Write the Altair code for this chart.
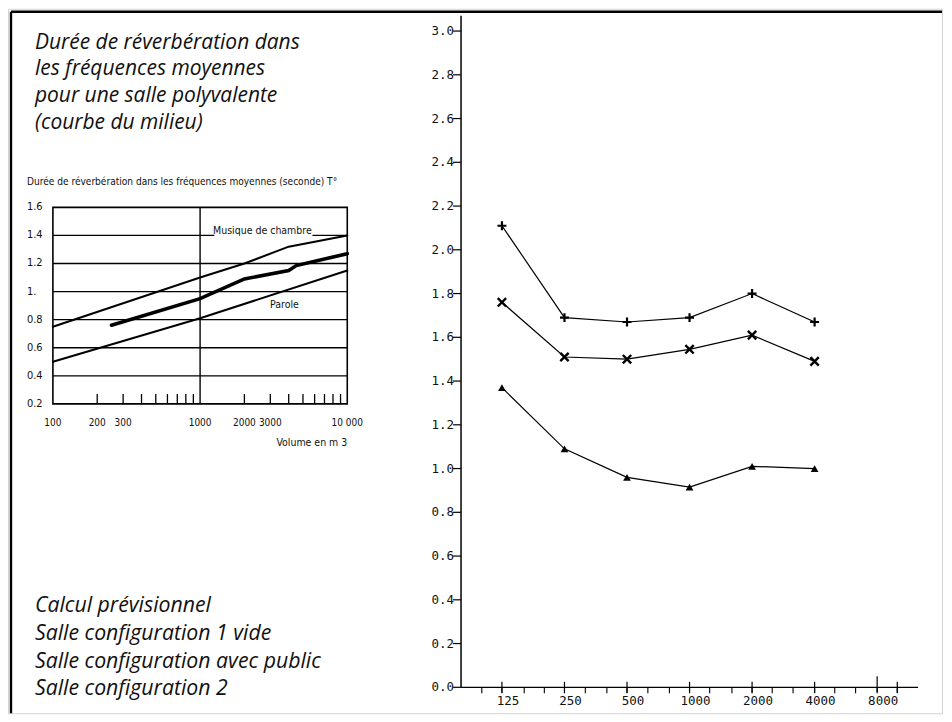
import altair as alt
import pandas as pd

# ---------------- main chart data (reverberation time vs octave band) ----------------
freqs = [125, 250, 500, 1000, 2000, 4000]
calc_previsionnel = [2.11, 1.69, 1.67, 1.69, 1.80, 1.67]
config1_vide = [1.76, 1.51, 1.50, 1.545, 1.61, 1.49]
config_public = [1.37, 1.09, 0.96, 0.915, 1.01, 1.00]

third_octaves = [100, 125, 160, 200, 250, 315, 400, 500, 630, 800, 1000, 1250,
                 1600, 2000, 2500, 3150, 4000, 5000, 6300, 8000, 10000]
major_freqs = [125, 250, 500, 1000, 2000, 4000, 8000]
major_labels = ["125", "250", "500", "1000", "2000", "4000", "8000"]
cross_ticks = [125, 250, 500, 1000, 2000, 4000, 10000]
tall_ticks = [8000]
y_ticks = [0.0, 0.2, 0.4, 0.6, 0.8, 1.0, 1.2, 1.4, 1.6, 1.8, 2.0, 2.2, 2.4, 2.6, 2.8, 3.0]
y_tick_labels = ["0.0", "0.2", "0.4", "0.6", "0.8", "1.0", "1.2", "1.4", "1.6",
                 "1.8", "2.0", "2.2", "2.4", "2.6", "2.8", "3.0"]
main_x_domain = [10 ** 1.9, 10 ** 4.1]
main_y_domain = [0.0, 3.07]

# ---------------- inset chart data (volume vs recommended T) ----------------
ins_x_musique = [100, 1000, 2000, 4000, 10000]
ins_y_musique = [0.75, 1.10, 1.20, 1.32, 1.40]
ins_x_poly = [250, 1000, 2000, 4000, 4500, 10000]
ins_y_poly = [0.76, 0.95, 1.09, 1.15, 1.185, 1.27]
ins_x_parole = [100, 1000, 10000]
ins_y_parole = [0.50, 0.81, 1.15]
ins_grid = [0.4, 0.6, 0.8, 1.0, 1.2, 1.4]
ins_minor = [200, 300, 400, 500, 600, 700, 800, 900,
             2000, 3000, 4000, 5000, 6000, 7000, 8000, 9000]
ins_xticks = [100, 200, 300, 1000, 2000, 3000, 10000]
ins_xlabels = ["100", "200", "300", "1000", "2000", "3000", "10 000"]
ins_yticks = [0.2, 0.4, 0.6, 0.8, 1.0, 1.2, 1.4, 1.6]
ins_ylabels = ["0.2", "0.4", "0.6", "0.8", "1.", "1.2", "1.4", "1.6"]
ins_x_domain = [100, 10000]
ins_y_domain = [0.2, 1.6]
ins_annot_text = ["Musique de chambre", "Parole"]
ins_annot_x = [2650, 3740]
ins_annot_y = [1.43, 0.905]
ins_gap_x = [1250, 5800]
ins_gap_y = [1.37, 1.47]

# ---------------- texts ----------------
top_lines = ["Durée de réverbération dans", "les fréquences moyennes",
             "pour une salle polyvalente", "(courbe du milieu)"]
bottom_lines = ["Calcul prévisionnel", "Salle configuration 1 vide",
                "Salle configuration avec public", "Salle configuration 2"]
inset_title = "Durée de réverbération dans les fréquences moyennes (seconde) T°"
inset_xtitle = "Volume en m 3"

# frame (top and left edges, in a unit frame space)
frame_x0 = [0, 0]
frame_x1 = [1, 0]
frame_y0 = [1, 0]
frame_y1 = [1, 1]

W, H = 936, 706
NARROW = "Liberation Sans Narrow, Arial Narrow, DejaVu Sans Condensed, sans-serif"
MONO = "DejaVu Sans Mono"
ITAL = "Open Sans"

# ================= main chart =================
X_MAIN = alt.Scale(type="log", domain=main_x_domain, range=[454, 912], nice=False)
Y_MAIN = alt.Scale(domain=main_y_domain, range=[680, 7], nice=False, zero=False)


def mx(field):
    return alt.X(field, type="quantitative", scale=X_MAIN, axis=None)


def my(field):
    return alt.Y(field, type="quantitative", scale=Y_MAIN, axis=None)


main_df = pd.DataFrame({
    "freq": freqs * 3,
    "value": calc_previsionnel + config1_vide + config_public,
    "series": (["Calcul prévisionnel"] * 6 + ["Salle configuration 1 vide"] * 6
               + ["Salle configuration avec public"] * 6),
})

main_lines = alt.Chart(main_df).mark_line(color="black", strokeWidth=1.2).encode(
    x=mx("freq"), y=my("value"), detail="series:N",
)


def pts(series, **kw):
    return alt.Chart(main_df).transform_filter(alt.datum.series == series).mark_point(**kw).encode(
        x=mx("freq"), y=my("value"),
    )


pts_plus = pts("Calcul prévisionnel", shape="M-1,0H1M0,-1V1", filled=False,
               stroke="black", strokeWidth=2.2, size=81, opacity=1)
pts_x = pts("Salle configuration 1 vide", shape="M-1,-1L1,1M-1,1L1,-1", filled=False,
            stroke="black", strokeWidth=2.4, size=70, opacity=1)
pts_tri = pts("Salle configuration avec public", shape="triangle-up", filled=True,
              color="black", size=60, opacity=1)

# axis lines
yaxis_df = pd.DataFrame({"x": [main_x_domain[0]], "y0": [main_y_domain[0]], "y1": [main_y_domain[1]]})
yaxis_line = alt.Chart(yaxis_df).mark_rule(color="black", strokeWidth=1.5).encode(
    x=mx("x"), y=my("y0"), y2="y1:Q")
xaxis_df = pd.DataFrame({"y": [0.0], "x0": [main_x_domain[0]], "x1": [main_x_domain[1]]})
xaxis_line = alt.Chart(xaxis_df).mark_rule(color="black", strokeWidth=1.3).encode(
    y=my("y"), x=mx("x0"), x2="x1:Q")

# y ticks and labels
ytick_df = pd.DataFrame({"y": y_ticks, "lab": y_tick_labels,
                         "x": [main_x_domain[0]] * len(y_ticks)})
yticks = alt.Chart(ytick_df).mark_tick(orient="horizontal", size=8, thickness=1.2,
                                       color="black", opacity=1, xOffset=-4).encode(
    x=mx("x"), y=my("y"))
ylabels = alt.Chart(ytick_df).mark_text(align="right", baseline="middle", dx=-7,
                                        font=MONO, fontSize=12.5, color="#111").encode(
    x=mx("x"), y=my("y"), text="lab:N")

# x ticks and labels
minor_df = pd.DataFrame({"freq": third_octaves, "zero": [0.0] * len(third_octaves)})
xminor = alt.Chart(minor_df).mark_tick(orient="vertical", size=6, thickness=1.1,
                                       color="black", opacity=1, yOffset=3).encode(
    x=mx("freq"), y=my("zero"))
cross_df = pd.DataFrame({"freq": cross_ticks, "zero": [0.0] * len(cross_ticks)})
cross = alt.Chart(cross_df).mark_tick(orient="vertical", size=11, thickness=1.2,
                                      color="black", opacity=1).encode(
    x=mx("freq"), y=my("zero"))
tall_df = pd.DataFrame({"freq": tall_ticks, "zero": [0.0] * len(tall_ticks)})
tall = alt.Chart(tall_df).mark_tick(orient="vertical", size=16, thickness=1.2,
                                    color="black", opacity=1, yOffset=-3).encode(
    x=mx("freq"), y=my("zero"))
xlab_df = pd.DataFrame({"freq": major_freqs, "lab": major_labels, "zero": [0.0] * len(major_freqs)})
xlabels = alt.Chart(xlab_df).mark_text(align="center", baseline="middle", dy=14, dx=6,
                                       font=MONO, fontSize=12.5, color="#111").encode(
    x=mx("freq"), y=my("zero"), text="lab:N")

main = alt.layer(yaxis_line, xaxis_line, yticks, ylabels, xminor, cross, tall, xlabels,
                 main_lines, pts_plus, pts_x, pts_tri)

# ================= inset chart =================
X_IN = alt.Scale(type="log", domain=ins_x_domain, range=[45, 340], nice=False)
Y_IN = alt.Scale(domain=ins_y_domain, range=[396, 199], nice=False, zero=False)


def ix(field):
    return alt.X(field, type="quantitative", scale=X_IN, axis=None)


def iy(field):
    return alt.Y(field, type="quantitative", scale=Y_IN, axis=None)


box_df = pd.DataFrame({"x0": [ins_x_domain[0]], "x1": [ins_x_domain[1]],
                       "y0": [ins_y_domain[0]], "y1": [ins_y_domain[1]]})
box = alt.Chart(box_df).mark_rect(fillOpacity=0, stroke="black", strokeWidth=1.6).encode(
    x=ix("x0"), x2="x1:Q", y=iy("y0"), y2="y1:Q")

grid_df = pd.DataFrame({"y": ins_grid, "x0": [ins_x_domain[0]] * len(ins_grid),
                        "x1": [ins_x_domain[1]] * len(ins_grid)})
grid = alt.Chart(grid_df).mark_rule(color="black", strokeWidth=1.4).encode(
    x=ix("x0"), x2="x1:Q", y=iy("y"))

gap_df = pd.DataFrame({"x0": [ins_gap_x[0]], "x1": [ins_gap_x[1]],
                       "y0": [ins_gap_y[0]], "y1": [ins_gap_y[1]]})
gap = alt.Chart(gap_df).mark_rect(color="white", opacity=1).encode(
    x=ix("x0"), x2="x1:Q", y=iy("y0"), y2="y1:Q")

vline_df = pd.DataFrame({"x": [1000], "y0": [ins_y_domain[0]], "y1": [ins_y_domain[1]]})
vline = alt.Chart(vline_df).mark_rule(color="black", strokeWidth=1.4).encode(
    x=ix("x"), y=iy("y0"), y2="y1:Q")

iminor_df = pd.DataFrame({"x": ins_minor, "y0": [ins_y_domain[0]] * len(ins_minor),
                          "y1": [0.27] * len(ins_minor)})
iminor = alt.Chart(iminor_df).mark_rule(color="black", strokeWidth=1.3).encode(
    x=ix("x"), y=iy("y0"), y2="y1:Q")


def curve(xs, ys, width):
    df = pd.DataFrame({"x": xs, "y": ys})
    return alt.Chart(df).mark_line(color="black", strokeWidth=width, strokeCap="round").encode(
        x=ix("x"), y=iy("y"))


c_mus = curve(ins_x_musique, ins_y_musique, 2.0)
c_poly = curve(ins_x_poly, ins_y_poly, 3.6)
c_par = curve(ins_x_parole, ins_y_parole, 2.0)

annot_df = pd.DataFrame({"t": ins_annot_text, "x": ins_annot_x, "y": ins_annot_y})
annot = alt.Chart(annot_df).mark_text(font=NARROW, fontSize=10.5, color="#111", align="center",
                                      baseline="middle").encode(
    x=ix("x"), y=iy("y"), text="t:N")

iylab_df = pd.DataFrame({"y": ins_yticks, "lab": ins_ylabels,
                         "x": [ins_x_domain[0]] * len(ins_yticks)})
iylabels = alt.Chart(iylab_df).mark_text(align="left", baseline="middle", dx=-26,
                                         font=NARROW, fontSize=11, color="#111").encode(
    x=ix("x"), y=iy("y"), text="lab:N")
ixlab_df = pd.DataFrame({"x": ins_xticks, "lab": ins_xlabels,
                         "y": [ins_y_domain[0]] * len(ins_xticks)})
ixlabels = alt.Chart(ixlab_df).mark_text(align="center", baseline="middle", dy=19,
                                         font=NARROW, fontSize=10, color="#111").encode(
    x=ix("x"), y=iy("y"), text="lab:N")
ititle_df = pd.DataFrame({"x": [ins_x_domain[1]], "y": [ins_y_domain[0]], "lab": [inset_xtitle]})
ixtitle = alt.Chart(ititle_df).mark_text(align="right", baseline="middle", dy=39,
                                         font=NARROW, fontSize=10.5, color="#111").encode(
    x=ix("x"), y=iy("y"), text="lab:N")

inset = alt.layer(box, grid, gap, vline, iminor, c_mus, c_poly, c_par, annot,
                  iylabels, ixlabels, ixtitle)

# ================= free texts =================
one = pd.DataFrame({"a": [0]})
top_text = alt.Chart(one).mark_text(
    text=top_lines, align="left", baseline="alphabetic", lineHeight=26.7,
    font=ITAL, fontStyle="italic", fontSize=21, color="#111",
).encode(x=alt.value(27), y=alt.value(40))
bottom_text = alt.Chart(one).mark_text(
    text=bottom_lines, align="left", baseline="alphabetic", lineHeight=27.7,
    font=ITAL, fontStyle="italic", fontSize=21.3, color="#111",
).encode(x=alt.value(27), y=alt.value(605))
ins_title = alt.Chart(one).mark_text(
    text=inset_title, align="left", baseline="middle", font=NARROW, fontSize=10.1, color="#111",
).encode(x=alt.value(19), y=alt.value(174))

texts = alt.layer(top_text, bottom_text, ins_title)

# ================= frame (top and left dark edges) =================
X_FR = alt.Scale(domain=[0, 1], range=[3, W], nice=False, zero=False)
Y_FR = alt.Scale(domain=[0, 1], range=[H, 3], nice=False, zero=False)
frame_df = pd.DataFrame({"x0": frame_x0, "x1": frame_x1, "y0": frame_y0, "y1": frame_y1})
frame = alt.Chart(frame_df).mark_rule(color="black", strokeWidth=2.4, opacity=1).encode(
    x=alt.X("x0:Q", scale=X_FR, axis=None), x2="x1:Q",
    y=alt.Y("y0:Q", scale=Y_FR, axis=None), y2="y1:Q",
)

chart = alt.layer(main, inset, texts, frame).resolve_scale(
    x="independent", y="independent"
).properties(width=W, height=H, padding=0, background="white").configure_view(
    stroke="#d4d4d4", strokeWidth=1
)

chart.save("out.html", embed_options={"renderer": "svg", "actions": False})
